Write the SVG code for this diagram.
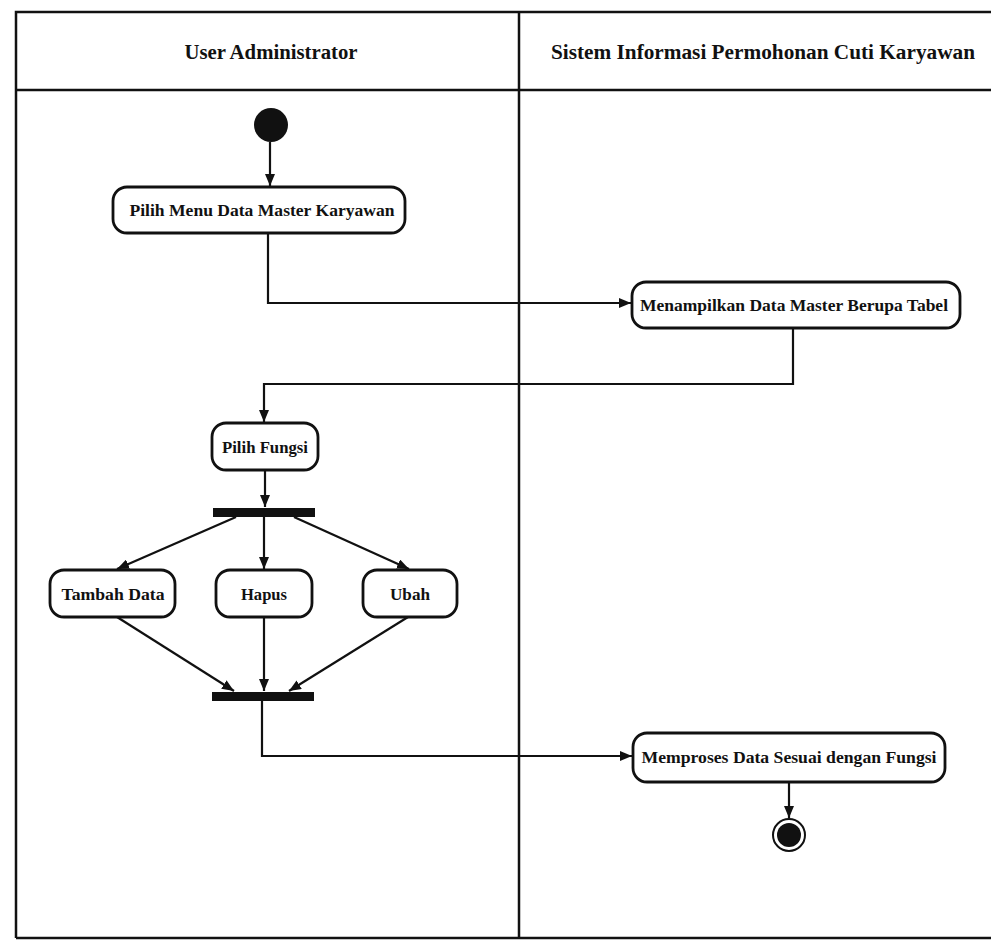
<svg xmlns="http://www.w3.org/2000/svg" width="991" height="941" viewBox="0 0 991 941">
<style>
.frame{fill:none;stroke:#111;stroke-width:2.5}
.act{fill:#fff;stroke:#111;stroke-width:2.8}
.bar{fill:#111}
.lbl{font-family:"Liberation Serif","Times New Roman",serif;font-weight:bold;fill:#111;text-anchor:middle}
.hdr{font-size:20px}
.txt{font-size:16.5px}
.edge{fill:none;stroke:#111;stroke-width:2.2}
</style>
<defs>
<marker id="arr" viewBox="0 0 12 10" refX="12" refY="5" markerWidth="12" markerHeight="10" markerUnits="userSpaceOnUse" orient="auto">
<path d="M0,0 L12,5 L0,10 z" fill="#111"/>
</marker>
</defs>
<rect width="991" height="941" fill="#fff"/>
<g id="swimlanes">
<path class="frame" d="M16,938 L16,12 L991,12"/>
<line class="frame" x1="16" y1="90" x2="991" y2="90"/>
<line class="frame" x1="519" y1="12" x2="519" y2="938"/>
<line class="frame" x1="16" y1="938" x2="991" y2="938"/>
<text class="lbl hdr" x="271" y="59" textLength="173" lengthAdjust="spacingAndGlyphs">User Administrator</text>
<text class="lbl hdr" x="763" y="59" textLength="424" lengthAdjust="spacingAndGlyphs">Sistem Informasi Permohonan Cuti Karyawan</text>
</g>
<g id="connectors">
<line class="edge" x1="270" y1="142" x2="270" y2="186" marker-end="url(#arr)"/>
<path class="edge" d="M268,233 L268,303 L631,303" marker-end="url(#arr)"/>
<path class="edge" d="M793,328 L793,384 L264,384 L264,422" marker-end="url(#arr)"/>
<line class="edge" x1="265" y1="470" x2="265" y2="507" marker-end="url(#arr)"/>
<line class="edge" x1="236" y1="517" x2="117" y2="569" marker-end="url(#arr)"/>
<line class="edge" x1="264" y1="517" x2="264" y2="569" marker-end="url(#arr)"/>
<line class="edge" x1="294" y1="517" x2="409" y2="569" marker-end="url(#arr)"/>
<line class="edge" x1="117" y1="617" x2="234" y2="691" marker-end="url(#arr)"/>
<line class="edge" x1="264" y1="617" x2="264" y2="691" marker-end="url(#arr)"/>
<line class="edge" x1="408" y1="617" x2="289" y2="691" marker-end="url(#arr)"/>
<path class="edge" d="M262,701 L262,756 L632,756" marker-end="url(#arr)"/>
<line class="edge" x1="789" y1="782" x2="789" y2="818" marker-end="url(#arr)"/>
</g>
<g id="start">
<circle cx="271" cy="125" r="17" fill="#111"/>
</g>
<g id="pilih-menu">
<rect class="act" x="113" y="187" width="292" height="46" rx="14"/>
<text class="lbl txt" x="262" y="216" textLength="265" lengthAdjust="spacingAndGlyphs">Pilih Menu Data Master Karyawan</text>
</g>
<g id="menampilkan">
<rect class="act" x="632" y="282" width="328" height="46" rx="14"/>
<text class="lbl txt" x="794" y="311" textLength="308" lengthAdjust="spacingAndGlyphs">Menampilkan Data Master Berupa Tabel</text>
</g>
<g id="pilih-fungsi">
<rect class="act" x="212" y="423" width="106" height="47" rx="14"/>
<text class="lbl txt" x="265" y="453" textLength="86" lengthAdjust="spacingAndGlyphs">Pilih Fungsi</text>
</g>
<g id="fork">
<rect class="bar" x="213" y="508" width="102" height="9"/>
</g>
<g id="tambah">
<rect class="act" x="50" y="570" width="125" height="47" rx="14"/>
<text class="lbl txt" x="113" y="600" textLength="103" lengthAdjust="spacingAndGlyphs">Tambah Data</text>
</g>
<g id="hapus">
<rect class="act" x="216" y="570" width="96" height="47" rx="14"/>
<text class="lbl txt" x="264" y="600" textLength="46" lengthAdjust="spacingAndGlyphs">Hapus</text>
</g>
<g id="ubah">
<rect class="act" x="363" y="570" width="94" height="47" rx="14"/>
<text class="lbl txt" x="410" y="600" textLength="40" lengthAdjust="spacingAndGlyphs">Ubah</text>
</g>
<g id="join">
<rect class="bar" x="212" y="692" width="102" height="9"/>
</g>
<g id="memproses">
<rect class="act" x="633" y="733" width="312" height="49" rx="14"/>
<text class="lbl txt" x="789" y="763" textLength="295" lengthAdjust="spacingAndGlyphs">Memproses Data Sesuai dengan Fungsi</text>
</g>
<g id="end">
<circle cx="789" cy="835" r="16" fill="#fff" stroke="#111" stroke-width="2"/>
<circle cx="789" cy="835" r="12" fill="#111"/>
</g>
</svg>
